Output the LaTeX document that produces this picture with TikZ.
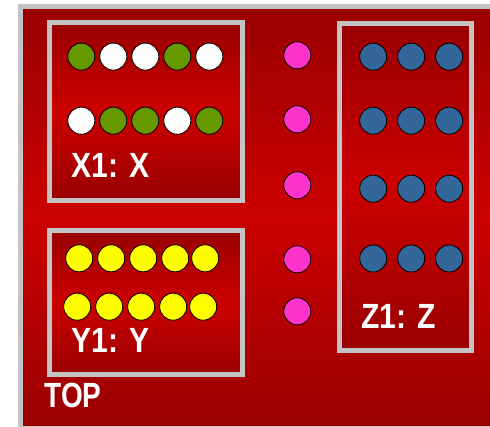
\documentclass[tikz,border=0pt]{standalone}
\usepackage{fontspec}
\setmainfont{Liberation Sans}
\definecolor{dkred}{HTML}{990000}
\definecolor{brred}{HTML}{CC0000}
\definecolor{frame}{HTML}{C4C4C4}
\definecolor{pgreen}{HTML}{669900}
\definecolor{pyellow}{HTML}{FFFF00}
\definecolor{pmag}{HTML}{FF33CC}
\definecolor{pblue}{HTML}{336699}
\tikzset{
  panel/.style={draw=frame, line width=5pt, top color=dkred, bottom color=dkred, middle color=brred},
  pin/.style={circle, draw=black, line width=0.8pt, minimum size=27pt, inner sep=0pt, outer sep=0pt},
  lbl/.style={text=white, inner sep=0pt, outer sep=0pt, anchor=base west, font=\bfseries\fontsize{35}{35}\selectfont}
}
\begin{document}
\begin{tikzpicture}[x=1pt,y=-1pt]
\useasboundingbox (0,0) rectangle (490,427);
\clip (0,0) rectangle (490,427);
% outer board
\path[panel] (20,6.8) rectangle (500,428.5);
\node[lbl] (top) at (44.5,408) {\scalebox{0.8}[1]{TOP}};
% X box
\path[panel] (49.5,22.5) rectangle (242.5,200.5);
\node[lbl] (xl) at (71.5,178) {\scalebox{0.86}[1]{X1: X}};
\node[pin, fill=pgreen] (x1) at (81.3,56.6) {};
\node[pin, fill=white]  (x2) at (113.3,56.6) {};
\node[pin, fill=white]  (x3) at (145.3,56.6) {};
\node[pin, fill=pgreen] (x4) at (177.3,56.6) {};
\node[pin, fill=white]  (x5) at (209.3,56.6) {};
\node[pin, fill=white]  (x6) at (81.3,120.7) {};
\node[pin, fill=pgreen] (x7) at (113.3,120.7) {};
\node[pin, fill=pgreen] (x8) at (145.3,120.7) {};
\node[pin, fill=white]  (x9) at (177.3,120.7) {};
\node[pin, fill=pgreen] (x10) at (209.3,120.7) {};
% Y box
\path[panel] (49.5,230.8) rectangle (242.5,374.8);
\node[lbl] (yl) at (71.5,353) {\scalebox{0.86}[1]{Y1: Y}};
\foreach \i/\x in {1/79.2,2/111.2,3/143.2,4/175.2,5/205.2}
  \node[pin, fill=pyellow] (ya\i) at (\x,258.3) {};
\foreach \i/\x in {1/77.2,2/109.2,3/141.2,4/173.2,5/203.2}
  \node[pin, fill=pyellow] (yb\i) at (\x,306.7) {};
% Z box
\path[panel] (339.8,23.2) rectangle (471.2,350.5);
\node[lbl] (zl) at (361.5,329) {\scalebox{0.86}[1]{Z1: Z}};
\foreach \r/\y in {1/56.7,2/120.7,3/188.7,4/258.5}
  \foreach \c/\x in {1/373.2,2/411.2,3/449.2}
    \node[pin, fill=pblue] (z\r\c) at (\x,\y) {};
% magenta pins
\foreach \i/\y in {1/55.3,2/119.3,3/185.3,4/259.3,5/311.3}
  \node[pin, fill=pmag] (m\i) at (297.3,\y) {};
\end{tikzpicture}
\end{document}
